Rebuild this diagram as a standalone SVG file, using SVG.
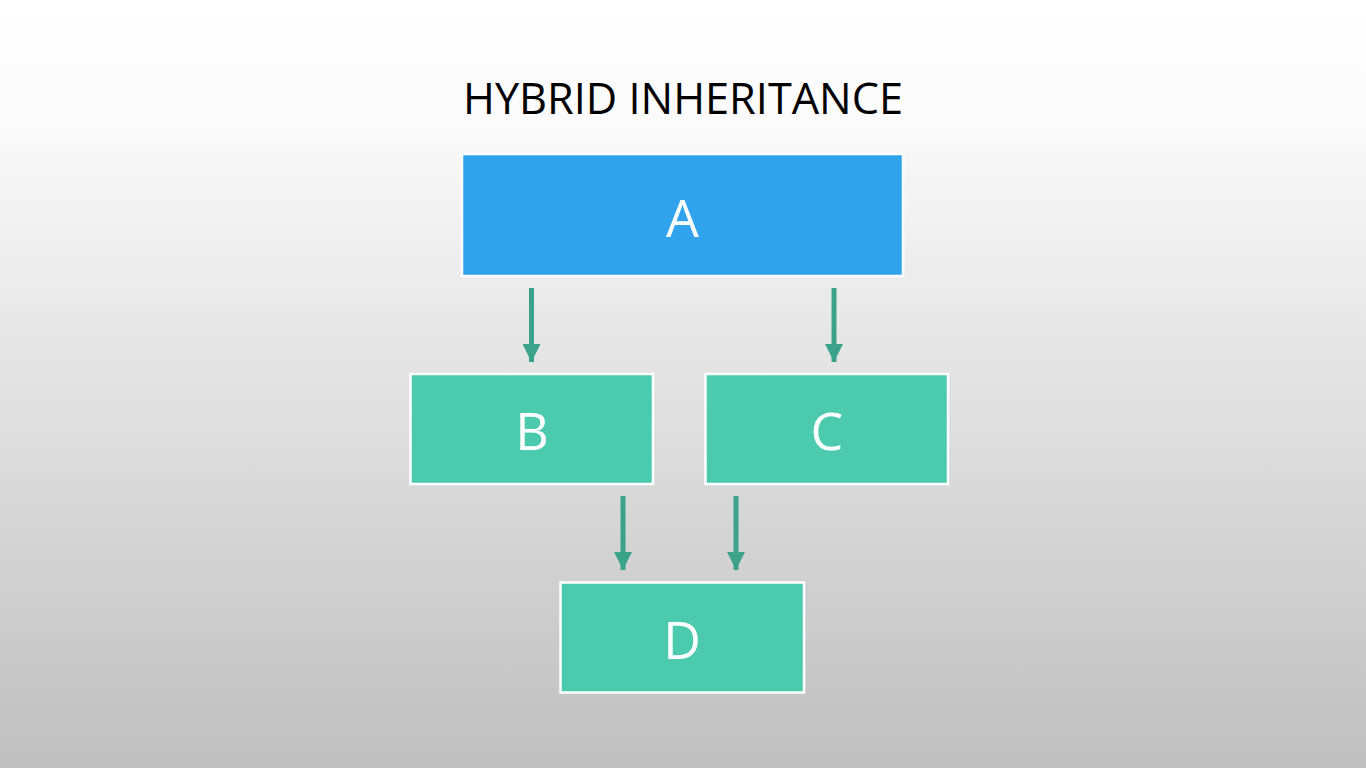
<svg xmlns="http://www.w3.org/2000/svg" width="1366" height="768" viewBox="0 0 1366 768">
<defs>
<linearGradient id="bg" x1="0" y1="0" x2="0" y2="1">
<stop offset="0" stop-color="#ffffff"/>
<stop offset="0.15" stop-color="#fbfbfb"/>
<stop offset="1" stop-color="#bfbfbf"/>
</linearGradient>
<marker id="ah" viewBox="0 0 18 18" refX="18" refY="9" markerWidth="18" markerHeight="18" markerUnits="userSpaceOnUse" orient="auto">
<path d="M0,0 L18,9 L0,18 Z" fill="#3aa38a"/>
</marker>
<style>
.box{stroke:#ffffff;stroke-width:2.5}
.a{fill:#30a3ec}
.t{fill:#4ccaae}
.lbl{font-family:"Open Sans","Liberation Sans",sans-serif;font-size:52px;fill:#ffffff;text-anchor:middle}
.conn{stroke:#3aa38a;stroke-width:5;fill:none;marker-end:url(#ah)}
</style>
</defs>
<rect x="0" y="0" width="1366" height="768" fill="url(#bg)"/>
<text x="683" y="114" font-family="Open Sans, Liberation Sans, sans-serif" font-size="44" fill="#000000" text-anchor="middle" textLength="440" lengthAdjust="spacingAndGlyphs">HYBRID INHERITANCE</text>
<g id="connectors">
<line class="conn" x1="531.5" y1="288" x2="531.5" y2="362"/>
<line class="conn" x1="834" y1="288" x2="834" y2="362"/>
<line class="conn" x1="623" y1="496" x2="623" y2="570"/>
<line class="conn" x1="736" y1="496" x2="736" y2="570"/>
</g>
<g id="node-A">
<rect class="box a" x="462" y="154" width="441" height="122"/>
<text class="lbl" x="682.5" y="237">A</text>
</g>
<g id="node-B">
<rect class="box t" x="410.5" y="374" width="242.5" height="110"/>
<text class="lbl" x="532" y="450">B</text>
</g>
<g id="node-C">
<rect class="box t" x="705.5" y="374" width="242.5" height="110"/>
<text class="lbl" x="827" y="450">C</text>
</g>
<g id="node-D">
<rect class="box t" x="560.5" y="582.5" width="243.5" height="110"/>
<text class="lbl" x="682" y="659">D</text>
</g>
</svg>
